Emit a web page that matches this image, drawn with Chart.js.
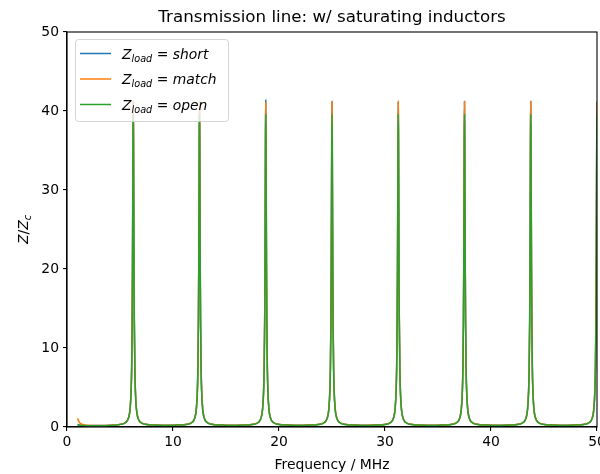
<!DOCTYPE html>
<html>
<head>
<meta charset="utf-8">
<script src="https://cdn.jsdelivr.net/npm/chart.js@4.4.1/dist/chart.umd.min.js"></script>
<style>
html,body{margin:0;padding:0;background:#fff;}
#wrap{width:600px;height:474px;position:relative;}
</style>
</head>
<body>
<div id="wrap"><canvas id="c" width="600" height="474"></canvas></div>
<script>
const titleText = 'Transmission line: w/ saturating inductors';
const xLabel = 'Frequency / MHz';
const seriesNames = ['short', 'match', 'open'];
const seriesColors = ['#1f77b4', '#ff7f0e', '#2ca02c'];

const freqMHz = [1.0,1.08,1.2,1.4,1.8,2.6,3.6,4.4,
5.05,5.55,5.8,5.95,6.05,6.1,6.15,6.18,6.21,6.23,6.25,6.27,6.29,6.32,6.35,6.4,6.45,6.55,6.7,6.95,7.45,
8.45,9.375,10.3,
11.3,11.8,12.05,12.2,12.3,12.35,12.4,12.43,12.46,12.48,12.5,12.52,12.54,12.57,12.6,12.65,12.7,12.8,12.95,13.2,13.7,
14.7,15.625,16.55,
17.55,18.05,18.3,18.45,18.55,18.6,18.65,18.68,18.71,18.73,18.75,18.77,18.79,18.82,18.85,18.9,18.95,19.05,19.2,19.45,19.95,
20.95,21.875,22.8,
23.8,24.3,24.55,24.7,24.8,24.85,24.9,24.93,24.96,24.98,25.0,25.02,25.04,25.07,25.1,25.15,25.2,25.3,25.45,25.7,26.2,
27.2,28.125,29.05,
30.05,30.55,30.8,30.95,31.05,31.1,31.15,31.18,31.21,31.23,31.25,31.27,31.29,31.32,31.35,31.4,31.45,31.55,31.7,31.95,32.45,
33.45,34.375,35.3,
36.3,36.8,37.05,37.2,37.3,37.35,37.4,37.43,37.46,37.48,37.5,37.52,37.54,37.57,37.6,37.65,37.7,37.8,37.95,38.2,38.7,
39.7,40.625,41.55,
42.55,43.05,43.3,43.45,43.55,43.6,43.65,43.68,43.71,43.73,43.75,43.77,43.79,43.82,43.85,43.9,43.95,44.05,44.2,44.45,44.95,
45.95,46.875,47.8,
48.8,49.3,49.55,49.7,49.8,49.85,49.9,49.93,49.96,49.98,50.0];

const zShort = [0.32,0.28,0.24,0.21,0.19,0.18,0.19,0.24,
0.35,0.6,1.15,2.3,4.7,7.6,13.7,20.8,31.3,38.3,41.2,38.3,31.3,20.8,13.7,7.6,4.7,2.3,1.15,0.6,0.35,
0.26,0.22,0.26,
0.35,0.6,1.15,2.3,4.7,7.6,13.7,20.8,31.3,38.3,41.2,38.3,31.3,20.8,13.7,7.6,4.7,2.3,1.15,0.6,0.35,
0.26,0.22,0.26,
0.35,0.6,1.15,2.3,4.7,7.6,13.7,20.8,31.3,38.4,41.4,38.4,31.3,20.8,13.7,7.6,4.7,2.3,1.15,0.6,0.35,
0.26,0.22,0.26,
0.35,0.6,1.15,2.3,4.7,7.6,13.7,20.8,31.3,38.3,41.2,38.3,31.3,20.8,13.7,7.6,4.7,2.3,1.15,0.6,0.35,
0.26,0.22,0.26,
0.35,0.6,1.15,2.3,4.7,7.6,13.7,20.8,31.3,38.3,41.2,38.3,31.3,20.8,13.7,7.6,4.7,2.3,1.15,0.6,0.35,
0.26,0.22,0.26,
0.35,0.6,1.15,2.3,4.7,7.6,13.7,20.8,31.3,38.3,41.2,38.3,31.3,20.8,13.7,7.6,4.7,2.3,1.15,0.6,0.35,
0.26,0.22,0.26,
0.35,0.6,1.15,2.3,4.7,7.6,13.7,20.8,31.3,38.3,41.2,38.3,31.3,20.8,13.7,7.6,4.7,2.3,1.15,0.6,0.35,
0.26,0.22,0.26,
0.35,0.6,1.15,2.3,4.7,7.6,13.7,20.8,31.3,38.3,41.2];

const zMatch = [1.1,0.8,0.55,0.35,0.22,0.19,0.19,0.24,
0.35,0.6,1.15,2.3,4.7,7.6,13.7,20.8,31.3,38.3,41.2,38.3,31.3,20.8,13.7,7.6,4.7,2.3,1.15,0.6,0.35,
0.26,0.22,0.26,
0.35,0.6,1.15,2.3,4.7,7.6,13.7,20.8,31.3,38.3,41.2,38.3,31.3,20.8,13.7,7.6,4.7,2.3,1.15,0.6,0.35,
0.26,0.22,0.26,
0.35,0.6,1.15,2.3,4.7,7.6,13.7,20.8,31.3,38.2,41.1,38.2,31.3,20.8,13.7,7.6,4.7,2.3,1.15,0.6,0.35,
0.26,0.22,0.26,
0.35,0.6,1.15,2.3,4.7,7.6,13.7,20.8,31.3,38.3,41.2,38.3,31.3,20.8,13.7,7.6,4.7,2.3,1.15,0.6,0.35,
0.26,0.22,0.26,
0.35,0.6,1.15,2.3,4.7,7.6,13.7,20.8,31.3,38.3,41.2,38.3,31.3,20.8,13.7,7.6,4.7,2.3,1.15,0.6,0.35,
0.26,0.22,0.26,
0.35,0.6,1.15,2.3,4.7,7.6,13.7,20.8,31.3,38.3,41.2,38.3,31.3,20.8,13.7,7.6,4.7,2.3,1.15,0.6,0.35,
0.26,0.22,0.26,
0.35,0.6,1.15,2.3,4.7,7.6,13.7,20.8,31.3,38.3,41.2,38.3,31.3,20.8,13.7,7.6,4.7,2.3,1.15,0.6,0.35,
0.26,0.22,0.26,
0.35,0.6,1.15,2.3,4.7,7.6,13.7,20.8,31.3,38.3,41.2];

const zOpen = [0.26,0.23,0.2,0.19,0.17,0.16,0.17,0.22,
0.33,0.57,1.1,2.2,4.5,7.3,13.2,20.0,30.1,36.8,39.6,36.8,30.1,20.0,13.2,7.3,4.5,2.2,1.1,0.57,0.33,
0.24,0.2,0.24,
0.33,0.57,1.1,2.2,4.5,7.3,13.2,20.0,30.1,36.8,39.6,36.8,30.1,20.0,13.2,7.3,4.5,2.2,1.1,0.57,0.33,
0.24,0.2,0.24,
0.33,0.57,1.1,2.2,4.5,7.3,13.2,20.0,30.1,36.8,39.6,36.8,30.1,20.0,13.2,7.3,4.5,2.2,1.1,0.57,0.33,
0.24,0.2,0.24,
0.33,0.57,1.1,2.2,4.5,7.3,13.2,20.0,30.1,36.8,39.6,36.8,30.1,20.0,13.2,7.3,4.5,2.2,1.1,0.57,0.33,
0.24,0.2,0.24,
0.33,0.57,1.1,2.2,4.5,7.3,13.2,20.0,30.1,36.8,39.6,36.8,30.1,20.0,13.2,7.3,4.5,2.2,1.1,0.57,0.33,
0.24,0.2,0.24,
0.33,0.57,1.1,2.2,4.5,7.3,13.2,20.0,30.1,36.8,39.6,36.8,30.1,20.0,13.2,7.3,4.5,2.2,1.1,0.57,0.33,
0.24,0.2,0.24,
0.33,0.57,1.1,2.2,4.5,7.3,13.2,20.0,30.1,36.8,39.6,36.8,30.1,20.0,13.2,7.3,4.5,2.2,1.1,0.57,0.33,
0.24,0.2,0.24,
0.33,0.57,1.1,2.2,4.5,7.3,13.2,20.0,30.1,36.8,39.6];

const xTicks = [0,10,20,30,40,50];
const yTicks = [0,10,20,30,40,50];

const FONT = '"DejaVu Sans", "Liberation Sans", sans-serif';
const seriesValues = [zShort, zMatch, zOpen];

function toPoints(xs, ys){ return xs.map((x,i)=>({x:x, y:ys[i]})); }

const datasets = seriesValues.map((vals, i) => ({
  label: 'Z_load = ' + seriesNames[i],
  data: toPoints(freqMHz, vals),
  borderColor: seriesColors[i],
  backgroundColor: seriesColors[i],
  borderWidth: 1.5,
  pointRadius: 0,
  cubicInterpolationMode: 'monotone',
  fill: false,
  order: 3 - i
}));

function drawMath(ctx, x, baseline, size, parts){
  let cx = x;
  for (const p of parts){
    const s = p.sub ? size*0.7 : size;
    ctx.font = (p.italic ? 'italic ' : '') + s.toFixed(1) + 'px ' + FONT;
    const dy = p.sub ? size*0.22 : 0;
    ctx.fillText(p.t, cx, baseline + dy);
    cx += ctx.measureText(p.t).width;
  }
  return cx - x;
}
function measureMath(ctx, size, parts){
  let w = 0;
  for (const p of parts){
    const s = p.sub ? size*0.7 : size;
    ctx.font = (p.italic ? 'italic ' : '') + s.toFixed(1) + 'px ' + FONT;
    w += ctx.measureText(p.t).width;
  }
  return w;
}

const decor = {
  id: 'decor',
  afterDatasetsDraw(chart){
    const ctx = chart.ctx;
    const a = chart.chartArea;
    ctx.save();
    ctx.strokeStyle = '#000';
    ctx.lineWidth = 1.1;
    ctx.strokeRect(a.left, a.top, a.right - a.left, a.bottom - a.top);
    // legend
    const lx = 75, ly = 39, lw = 153, lh = 82;
    ctx.beginPath();
    ctx.roundRect(lx + 0.5, ly + 0.5, lw, lh, 3);
    ctx.fillStyle = 'rgba(255,255,255,0.8)';
    ctx.fill();
    ctx.strokeStyle = 'rgba(204,204,204,0.8)';
    ctx.lineWidth = 1;
    ctx.stroke();
    const rows = [53.5, 79, 104.5];
    ctx.textBaseline = 'alphabetic';
    ctx.textAlign = 'left';
    rows.forEach((ry, i) => {
      ctx.strokeStyle = seriesColors[i];
      ctx.lineWidth = 1.5;
      ctx.beginPath();
      ctx.moveTo(80, ry); ctx.lineTo(111, ry);
      ctx.stroke();
      ctx.fillStyle = '#000';
      drawMath(ctx, 122, ry + 5, 13.9, [
        {t:'Z', italic:true}, {t:'load', italic:true, sub:true},
        {t:' = ', italic:false}, {t:seriesNames[i], italic:true}
      ]);
    });
    // title
    ctx.fillStyle = '#000';
    ctx.textAlign = 'center';
    ctx.font = '16.7px ' + FONT;
    const cxp = (a.left + a.right) / 2;
    ctx.fillText(titleText, cxp, 22);
    // x label
    ctx.font = '13.9px ' + FONT;
    ctx.fillText(xLabel, cxp, 469);
    // y label rotated
    ctx.textAlign = 'left';
    const yParts = [{t:'Z', italic:true}, {t:'/', italic:false}, {t:'Z', italic:true}, {t:'c', italic:true, sub:true}];
    const w = measureMath(ctx, 13.9, yParts);
    ctx.translate(28, (a.top + a.bottom) / 2);
    ctx.rotate(-Math.PI / 2);
    drawMath(ctx, -w / 2, 0, 13.9, yParts);
    ctx.restore();
  }
};

new Chart(document.getElementById('c'), {
  type: 'line',
  data: { datasets: datasets },
  plugins: [decor],
  options: {
    responsive: false,
    animation: false,
    events: [],
    layout: { padding: { left: 0, right: 3, top: 32, bottom: 0 } },
    plugins: { legend: { display: false }, tooltip: { enabled: false }, title: { display: false } },
    scales: {
      x: {
        type: 'linear', min: 0, max: 50,
        afterBuildTicks(scale){ scale.ticks = xTicks.map(v => ({value: v})); },
        afterFit(scale){ scale.height = 47; scale.paddingLeft = 0; scale.paddingRight = 0; },
        grid: { display: true, drawOnChartArea: false, drawTicks: true, tickLength: 4, color: '#000', lineWidth: 1.1 },
        border: { display: true, color: '#000', width: 1.1 },
        ticks: { color: '#000', font: { family: FONT, size: 13.9 }, padding: 3, maxRotation: 0, autoSkip: false }
      },
      y: {
        type: 'linear', min: 0, max: 50,
        afterBuildTicks(scale){ scale.ticks = yTicks.map(v => ({value: v})); },
        afterFit(scale){ scale.width = 67; scale.paddingTop = 0; scale.paddingBottom = 0; },
        grid: { display: true, drawOnChartArea: false, drawTicks: true, tickLength: 4, color: '#000', lineWidth: 1.1 },
        border: { display: true, color: '#000', width: 1.1 },
        ticks: { color: '#000', font: { family: FONT, size: 13.9 }, padding: 4, autoSkip: false }
      }
    }
  }
});
</script>
</body>
</html>
